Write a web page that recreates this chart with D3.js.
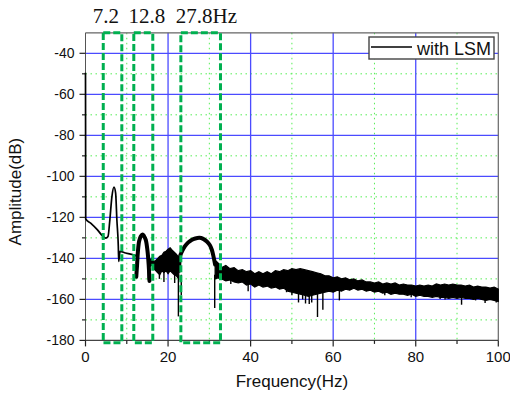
<!DOCTYPE html>
<html>
<head>
<meta charset="utf-8">
<script src="https://cdn.jsdelivr.net/npm/d3@7/dist/d3.min.js"></script>
<style>
  html, body { margin: 0; padding: 0; background: #fff; }
  svg { display: block; }
  text { font-family: "Liberation Sans", Arial, sans-serif; fill: #111; }
</style>
</head>
<body>
<svg id="chart" width="510" height="398"></svg>
<script>
// ---- axis ticks ----
const xMajor = [0, 20, 40, 60, 80, 100];
const xMinor = [10, 30, 50, 70, 90];
const yMajor = [-180, -160, -140, -120, -100, -80, -60, -40];
const yMinor = [-170, -150, -130, -110, -90, -70, -50];

// ---- low-frequency trace (0–12.5 Hz), dB ----
const baseF  = [0, 0.05, 1.25, 2.9, 4.1, 4.9, 5.45, 5.9, 6.4, 6.9, 7.3, 7.6, 7.95, 8.05, 8.35, 9.7, 10.9, 11.9, 12.5];
const baseDb = [-49.5, -120.8, -122.8, -126.1, -129, -130.1, -129.3, -121.2, -109.9, -105.3, -108.2, -121.2, -134.2, -141.5, -136.6, -137.4, -137.9, -138.4, -139];

// ---- arch around 12.8 Hz ----
const hump2F  = [12.3, 12.5, 12.7, 13.0, 13.4, 13.8, 14.2, 14.6, 15.0, 15.3, 15.5];
const hump2Db = [-149, -143, -136.5, -131.5, -129.2, -128.3, -129.2, -131, -136, -143, -151];

// ---- arch around 27.8 Hz ----
const hump3F  = [22.7, 22.9, 23.4, 24.1, 24.9, 25.7, 26.6, 27.6, 28.5, 29.4, 30.1, 30.6, 31.0, 31.4];
const hump3Db = [-146, -139, -136.5, -134, -132.2, -131, -130.3, -130, -130.5, -131.8, -133.5, -135.8, -139, -143];

// ---- noise band between the two arches ----
const noiseAF  = [15.6, 16, 16.5, 17, 17.5, 18, 18.5, 19, 19.5, 20, 20.5, 21, 21.5, 22, 22.6];
const noiseAHi = [-141, -140, -141.5, -141, -140, -139, -138.5, -137, -136.5, -135.5, -134.8, -136, -137, -138, -139.5];
const noiseALo = [-144, -143, -145, -146, -147, -148, -146, -147, -146, -147.5, -146, -147, -148, -148.5, -150];

// ---- noise band above 31 Hz ----
const noiseBF = [31.4, 32, 33, 34, 35, 36, 37, 38, 39, 40, 41, 42, 43, 44, 45, 46, 47, 48, 49, 50,
  51, 52, 53, 54, 55, 56, 57, 58, 59, 60, 61, 62, 63, 64, 65, 66, 67, 68, 69, 70,
  71, 72, 73, 74, 75, 76, 77, 78, 79, 80, 81, 82, 83, 84, 85, 86, 87, 88, 89, 90,
  91, 92, 93, 94, 95, 96, 97, 98, 99, 100];
const noiseBHi = [-141, -142, -144.5, -143.5, -145, -144.5, -146, -145.5, -146.5, -146, -147.5, -146.5, -147.5, -146.5, -147.5, -146, -146.5, -145.5, -146, -145,
  -145.5, -145, -145.5, -146, -146.5, -147, -147.5, -148.5, -148.5, -149.5, -149, -150, -149.5, -150.5, -150, -151, -150.5, -151.5, -151.5, -152,
  -151.5, -152.5, -152, -152.5, -152, -153, -152.5, -153, -153, -153.5, -153, -153.5, -153, -153.5, -152.5, -153, -152.5, -153, -152.5, -153,
  -153, -153.5, -153, -154, -153.5, -154, -154, -154.5, -154, -155];
const noiseBLo = [-150, -149.5, -150, -151, -150.5, -151.5, -152, -151.5, -153, -152.5, -154, -153, -154, -153.5, -154.5, -154, -155, -154.5, -156, -156.5,
  -157, -157.5, -158, -158.5, -158, -157.5, -157, -156.5, -156, -156.5, -155.5, -156, -155, -155.5, -154.5, -155.5, -155, -156, -155.5, -156.5,
  -156, -157, -156.5, -157.5, -157, -157.5, -157.5, -158, -157.5, -158.5, -158, -158.5, -158.5, -159, -158.5, -159, -159, -159.5, -159, -159.5,
  -159, -159.5, -159.5, -160, -159.5, -160, -160.5, -160, -160.5, -161];

// ---- downward spikes (frequency, dB) ----
const spikeF  = [12.4, 15.2, 17.9, 19.0, 21.6, 22.5, 23.2, 31.3, 35.2, 39.4, 48.7, 50.0, 51.6, 52.6, 53.3, 54.2, 54.8, 56.2, 57.5, 61.5, 72.5, 78.9, 85.9, 87.1, 91.1, 94.5, 96.8, 99.5];
const spikeDb = [-149, -150.4, -150, -151.5, -152, -168.3, -158, -164.2, -152.5, -156, -156.5, -158, -161.5, -160, -162, -162.3, -161.5, -168.6, -165, -160.5, -158, -159, -159.8, -160, -162.6, -160.5, -161.8, -161.5];

// ---- marked frequency bands and their labels ----
const bandFrom   = [4.3, 11.7, 23.1];
const bandTo     = [8.8, 16.3, 32.7];
const bandLabels = ["7.2", "12.8", "27.8Hz"];

const seriesName = "with LSM";

// ---------------------------------------------------------------
const svg = d3.select("#chart");
const x = d3.scaleLinear().domain([0, 100]).range([85.5, 498.3]);
const y = d3.scaleLinear().domain([-180, -30]).range([340.4, 32.8]);
const [x0, x1] = x.range();
const [yB, yT] = y.range();

svg.append("rect").attr("width", 510).attr("height", 398).attr("fill", "#fff");

// minor grid (green dotted)
const grid = svg.append("g");
grid.selectAll(".gxm").data(xMinor).join("line")
  .attr("x1", d => x(d)).attr("x2", d => x(d)).attr("y1", yT).attr("y2", yB)
  .attr("stroke", "#55ee55").attr("stroke-width", 1).attr("stroke-dasharray", "1.5,3.5");
grid.selectAll(".gym").data(yMinor).join("line")
  .attr("y1", d => y(d)).attr("y2", d => y(d)).attr("x1", x0).attr("x2", x1)
  .attr("stroke", "#55ee55").attr("stroke-width", 1).attr("stroke-dasharray", "1.5,3.5");
// major grid (blue)
grid.selectAll(".gx").data(xMajor.filter(d => d > 0 && d < 100)).join("line")
  .attr("x1", d => x(d)).attr("x2", d => x(d)).attr("y1", yT).attr("y2", yB)
  .attr("stroke", "#4b4bff").attr("stroke-width", 1.3);
grid.selectAll(".gy").data(yMajor.filter(d => d > -180)).join("line")
  .attr("y1", d => y(d)).attr("y2", d => y(d)).attr("x1", x0).attr("x2", x1)
  .attr("stroke", "#4b4bff").attr("stroke-width", 1.3);

// frame (top, right)
svg.append("path")
  .attr("d", `M${x0},${yT}H${x1}V${yB}`)
  .attr("fill", "none").attr("stroke", "#666").attr("stroke-width", 1.2);

// ---- axes lines and ticks ----
const axes = svg.append("g").attr("stroke", "#222");
axes.append("line").attr("x1", x0).attr("x2", x0).attr("y1", yT).attr("y2", yB + 0.5).attr("stroke-width", 1).attr("stroke", "#555");
axes.append("line").attr("x1", x0).attr("x2", x1).attr("y1", yB).attr("y2", yB).attr("stroke-width", 1.2).attr("stroke", "#444");
axes.selectAll(".ty").data(yMajor).join("line")
  .attr("x1", x0 - 6).attr("x2", x0).attr("y1", d => y(d)).attr("y2", d => y(d)).attr("stroke-width", 1.2);
axes.selectAll(".tym").data(yMinor).join("line")
  .attr("x1", x0 - 3.5).attr("x2", x0).attr("y1", d => y(d)).attr("y2", d => y(d)).attr("stroke-width", 1.2);
axes.selectAll(".tx").data(xMajor).join("line")
  .attr("x1", d => x(d)).attr("x2", d => x(d)).attr("y1", yB).attr("y2", yB + 6).attr("stroke-width", 1.2);
axes.selectAll(".txm").data(xMinor).join("line")
  .attr("x1", d => x(d)).attr("x2", d => x(d)).attr("y1", yB).attr("y2", yB + 3.5).attr("stroke-width", 1.2);

// ---- trace ----
const plot = svg.append("g");

plot.append("path")
  .datum(baseF.map((f, i) => [f, baseDb[i]]))
  .attr("d", d3.line().x(d => x(d[0])).y(d => y(d[1])).curve(d3.curveMonotoneX))
  .attr("fill", "none").attr("stroke", "#000").attr("stroke-width", 1.7).attr("stroke-linejoin", "round");

[[hump2F, hump2Db], [hump3F, hump3Db]].forEach(([fs, ds]) => {
  plot.append("path")
    .datum(fs.map((f, i) => [f, ds[i]]))
    .attr("d", d3.line().x(d => x(d[0])).y(d => y(d[1])).curve(d3.curveCatmullRom))
    .attr("fill", "none").attr("stroke", "#000").attr("stroke-width", 4).attr("stroke-linecap", "round");
});

const area = d3.area().x(d => x(d.f)).y0(d => y(d.lo)).y1(d => y(d.hi));
[[noiseAF, noiseAHi, noiseALo], [noiseBF, noiseBHi, noiseBLo]].forEach(([fs, hi, lo]) => {
  plot.append("path")
    .datum(fs.map((f, i) => ({ f, hi: hi[i], lo: lo[i] })))
    .attr("d", area)
    .attr("fill", "#000").attr("stroke", "#000").attr("stroke-width", 1.2).attr("stroke-linejoin", "miter");
});

// spikes hang from the lower edge of the nearest band sample
const allF = noiseAF.concat(noiseBF);
const allLo = noiseALo.concat(noiseBLo);
const loAt = f => {
  let best = 0;
  allF.forEach((v, i) => { if (Math.abs(v - f) < Math.abs(allF[best] - f)) best = i; });
  return allLo[best] + 2;
};
plot.selectAll(".spike").data(spikeF.map((f, i) => [f, spikeDb[i]])).join("line")
  .attr("x1", d => x(d[0])).attr("x2", d => x(d[0]))
  .attr("y1", d => y(Math.max(loAt(d[0]), d[1]))).attr("y2", d => y(d[1]))
  .attr("stroke", "#000").attr("stroke-width", 1.4);

// ---- tick labels and titles ----
svg.selectAll(".ly").data(yMajor).join("text")
  .attr("x", x0 - 11).attr("y", d => y(d) + 5)
  .attr("text-anchor", "end").attr("font-size", 14).text(d => d);
svg.selectAll(".lx").data(xMajor).join("text")
  .attr("x", d => x(d)).attr("y", 362)
  .attr("text-anchor", "middle").attr("font-size", 15).text(d => d);

svg.append("text").attr("x", (x0 + x1) / 2).attr("y", 386.5)
  .attr("text-anchor", "middle").attr("font-size", 17).text("Frequency(Hz)");
svg.append("text").attr("transform", `translate(21,${(yT + yB) / 2 + 5}) rotate(-90)`)
  .attr("text-anchor", "middle").attr("font-size", 17).text("Amplitude(dB)");

// ---- marked bands ----
const boxes = svg.append("g");
bandFrom.forEach((f, i) => {
  boxes.append("rect")
    .attr("x", x(f)).attr("y", y(-30))
    .attr("width", x(bandTo[i]) - x(f)).attr("height", y(-181.2) - y(-30))
    .attr("fill", "none").attr("stroke", "#00b050").attr("stroke-width", 3)
    .attr("stroke-dasharray", "7,3");
});
const labelOffset = [-10.6, -5.4, -5];
bandLabels.forEach((t, i) => {
  svg.append("text").attr("x", x(bandFrom[i]) + labelOffset[i]).attr("y", 22.7)
    .style("font-family", "'Liberation Serif', 'Times New Roman', serif")
    .attr("font-size", 21).text(t);
});

// ---- legend ----
const lg = svg.append("g");
lg.append("rect").attr("x", 369).attr("y", 37).attr("width", 125).attr("height", 22)
  .attr("fill", "#fff").attr("stroke", "#444").attr("stroke-width", 1.4);
lg.append("line").attr("x1", 371).attr("x2", 412).attr("y1", 47).attr("y2", 47)
  .attr("stroke", "#000").attr("stroke-width", 1.6);
lg.append("text").attr("x", 417).attr("y", 55).attr("font-size", 18).text(seriesName);
</script>
</body>
</html>
